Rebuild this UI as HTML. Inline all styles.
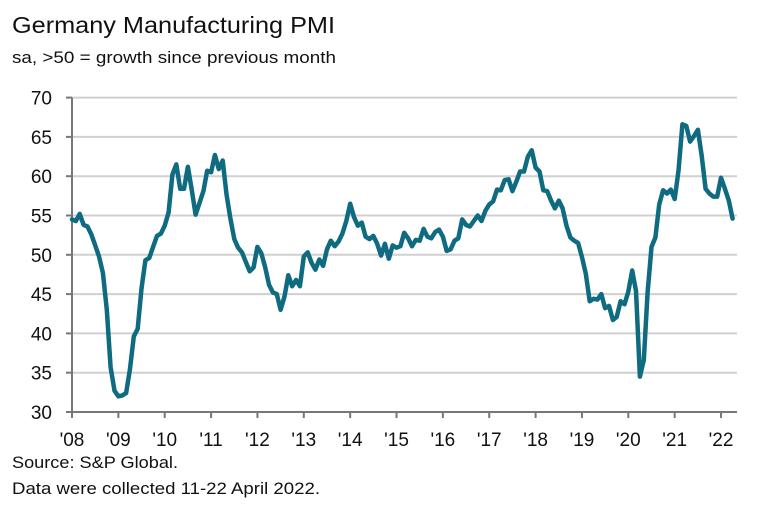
<!DOCTYPE html>
<html><head><meta charset="utf-8">
<style>
body{margin:0;background:#fff;}
svg{display:block;font-family:"Liberation Sans",sans-serif;}
</style></head><body>
<svg id="chart" width="781" height="519" viewBox="0 0 781 519">
<text x="12" y="33" font-size="23" fill="#111" textLength="323" lengthAdjust="spacingAndGlyphs">Germany Manufacturing PMI</text>
<text x="12" y="63" font-size="16.5" fill="#111" textLength="324" lengthAdjust="spacingAndGlyphs">sa, &gt;50 = growth since previous month</text>
<g id="grid"></g>
<g id="yaxis"></g>
<g id="xaxis"></g>
<path id="line" fill="none" stroke="#0e6b80" stroke-width="4.5" stroke-linejoin="round" stroke-linecap="round"></path>
<text x="12" y="468" font-size="16.5" fill="#111" textLength="166" lengthAdjust="spacingAndGlyphs">Source: S&amp;P Global.</text>
<text x="12" y="494" font-size="16.5" fill="#111" textLength="308" lengthAdjust="spacingAndGlyphs">Data were collected 11-22 April 2022.</text>
</svg>
<script>
const yTicks=[30,35,40,45,50,55,60,65,70];
const xLabels=["'08","'09","'10","'11","'12","'13","'14","'15","'16","'17","'18","'19","'20","'21","'22"];
const pmi2008_2011=[54.5,54.3,55.2,53.8,53.6,52.6,51.2,49.8,47.7,43.0,35.7,32.7,32.0,32.1,32.4,35.4,39.6,40.6,45.7,49.3,49.6,51.0,52.4,52.7,53.7,55.4,60.2,61.5,58.4,58.4,61.2,58.2,55.1,56.6,58.1,60.7,60.5,62.7,60.9,62.0,57.7,54.6,52.0,50.9,50.3,49.1,47.9,48.4];
const pmi2012_2015=[51.0,50.2,48.4,46.2,45.2,45.0,43.0,44.7,47.4,46.0,46.8,46.0,49.8,50.3,49.0,48.1,49.4,48.6,50.7,51.8,51.1,51.7,52.7,54.3,56.5,54.8,53.7,54.1,52.3,52.0,52.4,51.4,49.9,51.4,49.5,51.2,50.9,51.1,52.8,52.1,51.1,51.9,51.8,53.3,52.3,52.1,52.9,53.2];
const pmi2016_2019=[52.3,50.5,50.7,51.8,52.1,54.5,53.8,53.6,54.3,55.0,54.3,55.6,56.4,56.8,58.3,58.2,59.5,59.6,58.1,59.3,60.6,60.6,62.5,63.3,61.1,60.6,58.2,58.1,56.9,55.9,56.9,55.9,53.7,52.2,51.8,51.5,49.7,47.6,44.1,44.4,44.3,45.0,43.2,43.5,41.7,42.1,44.1,43.7];
const pmi2020_2022=[45.3,48.0,45.4,34.5,36.6,45.2,51.0,52.2,56.4,58.2,57.8,58.3,57.1,60.7,66.6,66.4,64.4,65.1,65.9,62.6,58.4,57.8,57.4,57.4,59.8,58.4,56.9,54.6];
const values=[...pmi2008_2011,...pmi2012_2015,...pmi2016_2019,...pmi2020_2022];
const ns="http://www.w3.org/2000/svg";
const X0=72,YR=46.36,Y30=412,PU=7.86,XR=737;
const xs=i=>X0+i*YR/12;
const ys=v=>Y30-(v-30)*PU;
const grid=document.getElementById('grid'),ya=document.getElementById('yaxis'),xa=document.getElementById('xaxis');
function mk(tag,attrs,parent){const e=document.createElementNS(ns,tag);for(const k in attrs)e.setAttribute(k,attrs[k]);parent.appendChild(e);return e;}
yTicks.forEach(t=>{
  const y=ys(t);
  if(t>30){const g=mk('line',{x1:X0,x2:XR,y1:y,y2:y,stroke:'#d0d0d0','stroke-width':2},grid);
  
  }
  const tk=mk('line',{x1:66,x2:X0,y1:y,y2:y,stroke:'#777','stroke-width':2},ya);
  
  
  const tx=mk('text',{x:52,y:y+7,'font-size':19,'text-anchor':'end',fill:'#111'},ya);
  tx.textContent=t;
  
  
});
const ax=mk('line',{x1:X0,x2:X0,y1:ys(70),y2:Y30,stroke:'#777','stroke-width':2},ya);


const bx=mk('line',{x1:X0,x2:XR,y1:Y30,y2:Y30,stroke:'#777','stroke-width':2},xa);


xLabels.forEach((l,i)=>{
  const x=xs(i*12);
  const tk=mk('line',{x1:x,x2:x,y1:Y30,y2:Y30+6,stroke:'#777','stroke-width':2},xa);
  
  
  const tx=mk('text',{x:x,y:446,'font-size':19,'text-anchor':'middle',fill:'#111'},xa);
  tx.textContent=l;
  
  
});
document.getElementById('line').setAttribute('d',values.map((v,i)=>(i?'L':'M')+xs(i).toFixed(1)+' '+ys(v).toFixed(1)).join(' '));
</script>
</body></html>
